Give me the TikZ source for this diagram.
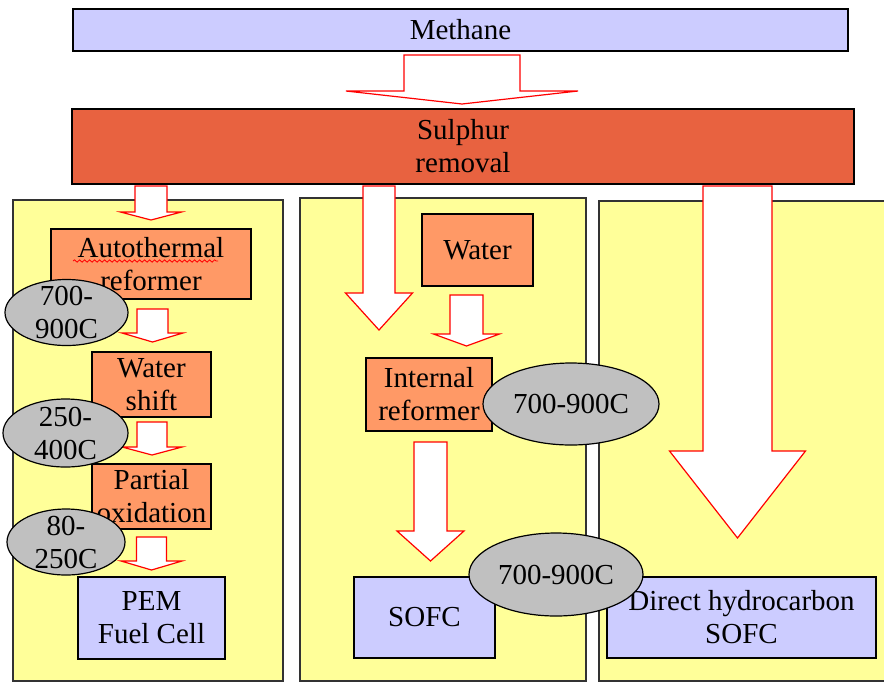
\documentclass[tikz,border=0pt]{standalone}
\usepackage{fontspec}
\setmainfont{Liberation Serif}
\definecolor{lavender}{RGB}{204, 204, 255}
\definecolor{sulphurred}{RGB}{232, 98, 64}
\definecolor{stageorange}{RGB}{255, 153, 102}
\definecolor{panelyellow}{RGB}{255, 255, 153}
\definecolor{tempgray}{RGB}{192, 192, 192}
\usetikzlibrary{shapes.geometric, decorations.pathmorphing}

% block arrow: centre x, top, half shaft, half head, head base, tip
\newcommand{\blockarrow}[6]{%
    \draw[blockarr] ({#1-#3},#2) -- ({#1+#3},#2) -- ({#1+#3},#5) -- ({#1+#4},#5) -- (#1,#6) -- ({#1-#4},#5) -- ({#1-#3},#5) -- cycle;}

\begin{document}
\begin{tikzpicture}[
                x=0.5pt, y=-0.5pt,
                font=\fontsize{14.5}{16.5}\selectfont,
                fuel/.style={rectangle, draw=black, line width=0.8pt, fill=lavender, inner sep=0pt, align=center},
                stage/.style={rectangle, draw=black, line width=0.8pt, fill=stageorange, inner sep=0pt, align=center},
                panel/.style={rectangle, draw=black!80, line width=0.6pt, fill=panelyellow, inner sep=0pt},
                temp/.style={ellipse, draw=black, line width=0.6pt, fill=tempgray, inner xsep=0pt, inner ysep=-6pt, align=center},
                blockarr/.style={draw=red, line width=0.6pt, fill=white, line join=miter}
            ]%
            \useasboundingbox (0,0) rectangle (884,682);
            \clip (0,0) rectangle (884,682);
            %
            % Top rows
            \node[fuel, minimum width=387.5pt, minimum height=21pt] (methane) at (460.5,30) {Methane};
            \node[stage, fill=sulphurred, minimum width=391pt, minimum height=37.5pt] (sulphur) at (463,146.5) {Sulphur\\removal};
            %
            % Panels
            \node[panel, minimum width=135pt, minimum height=240.5pt] (pemcol) at (148,440.5) {};
            \node[panel, minimum width=143pt, minimum height=241.5pt] (sofccol) at (443,439.5) {};
            \node[panel, minimum width=146.5pt, minimum height=240pt] (directcol) at (745.5,441) {};
            %
            % PEM route
            \node[stage, minimum width=100pt, minimum height=35pt] (auto) at (151,264) {Autothermal\\reformer};
            \node[stage, minimum width=59.5pt, minimum height=32.5pt] (shift) at (151.5,384.5) {Water\\shift};
            \node[stage, minimum width=59.5pt, minimum height=32.5pt] (pox) at (151.5,496.5) {Partial\\oxidation};
            \node[fuel, minimum width=73.5pt, minimum height=41pt] (pem) at (151.5,618) {PEM\\Fuel Cell};
            \draw[red, decorate, decoration={snake, amplitude=0.6pt, segment length=2.5pt}] (73,261) -- (218,261);
            %
            % SOFC route
            \node[stage, minimum width=55.5pt, minimum height=36pt] (water) at (477.5,250) {Water};
            \node[stage, minimum width=63pt, minimum height=36.5pt] (internal) at (429,394.5) {Internal\\reformer};
            \node[fuel, minimum width=70.5pt, minimum height=40.5pt] (sofc) at (424.5,617.5) {SOFC};
            %
            % Direct route
            \node[fuel, minimum width=134.5pt, minimum height=40.5pt] (direct) at (741.5,617.5) {Direct hydrocarbon\\SOFC};
            %
            % Block arrows
            \blockarrow{462}{55}{58}{116}{91}{104}
            \blockarrow{151}{186}{16}{30.5}{212}{220}
            \blockarrow{152.5}{309}{15.5}{30.5}{333}{342}
            \blockarrow{152}{422}{15}{30}{447}{455}
            \blockarrow{151.5}{537}{15}{30.5}{561}{570}
            \blockarrow{379}{186}{16}{33.5}{293}{330}
            \blockarrow{466.5}{295}{16.5}{33}{334}{346}
            \blockarrow{430.5}{442}{16.5}{33.5}{531}{561}
            \blockarrow{737.5}{186}{34.5}{68}{451}{538}
            %
            % Temperatures
            \node[temp, minimum width=61.5pt, minimum height=33pt] (t1) at (66.5,312.5) {700-\\900C};
            \node[temp, minimum width=62.5pt, minimum height=34pt] (t2) at (65.5,433) {250-\\400C};
            \node[temp, minimum width=59pt, minimum height=33pt] (t3) at (66,542) {80-\\250C};
            \node[temp, minimum width=88pt, minimum height=41pt] (t4) at (571,404) {700-900C};
            \node[temp, minimum width=87pt, minimum height=41.5pt] (t5) at (556,574.5) {700-900C};
        \end{tikzpicture}
\end{document}
